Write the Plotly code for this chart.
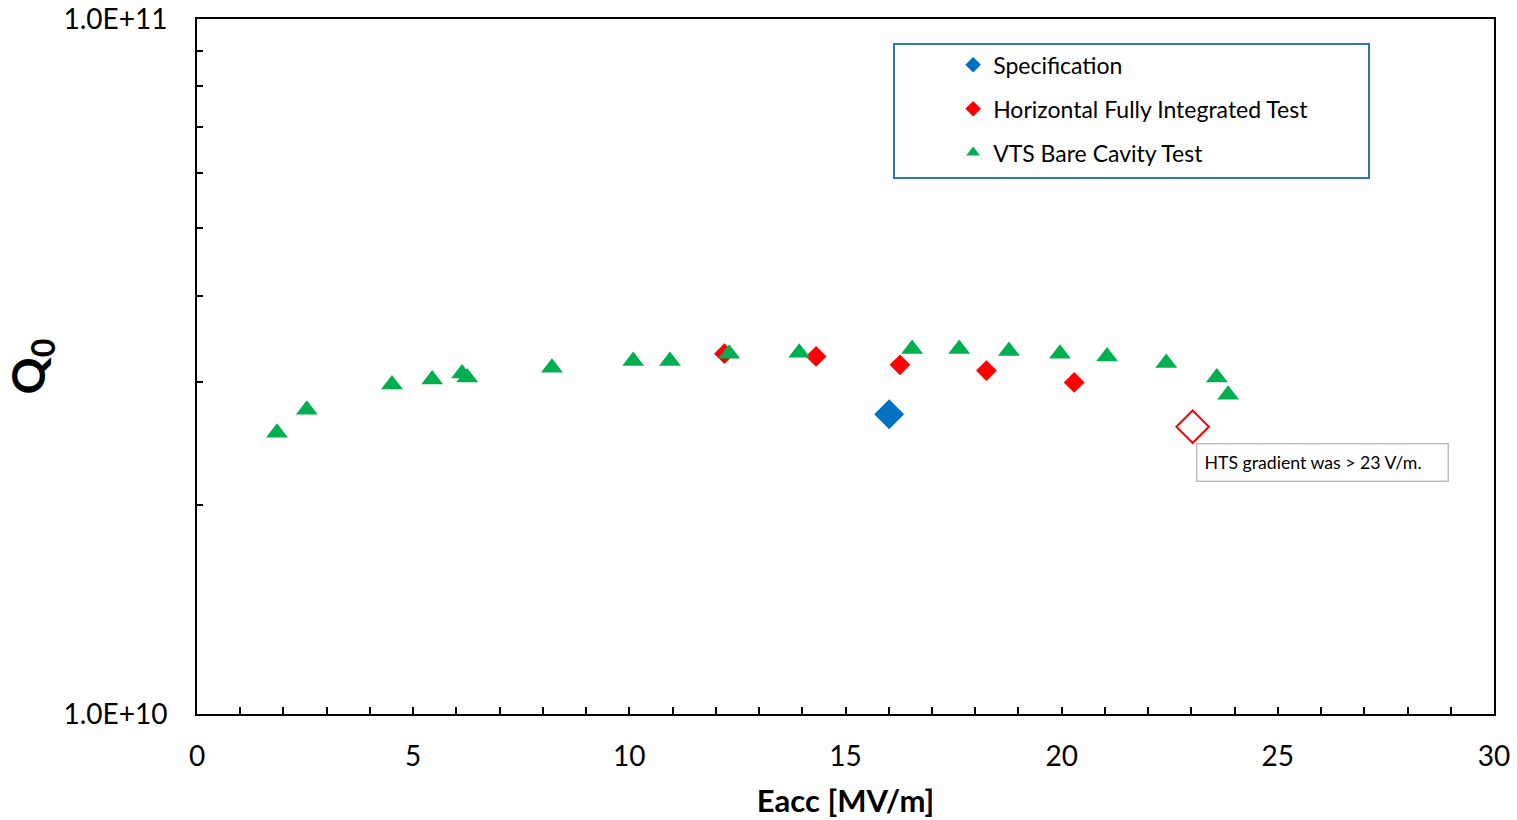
import plotly.graph_objects as go

# ---- data ----
spec_e = [16.01]
spec_q = [2.70e10]

hfit_e = [12.20, 14.32, 16.26, 18.26, 20.29]
hfit_q = [3.30e10, 3.27e10, 3.18e10, 3.12e10, 3.00e10]

hts_open_e = [23.03]
hts_open_q = [2.59e10]

vts_e = [1.85, 2.54, 4.51, 5.44, 6.13, 6.25, 8.21, 10.09, 10.94, 12.31, 13.93,
         16.54, 17.63, 18.78, 19.96, 21.05, 22.42, 23.59, 23.85]
vts_q = [2.54e10, 2.74e10, 2.98e10, 3.03e10, 3.09e10, 3.05e10, 3.15e10, 3.22e10,
         3.22e10, 3.30e10, 3.31e10, 3.35e10, 3.35e10, 3.33e10, 3.30e10, 3.27e10,
         3.20e10, 3.05e10, 2.88e10]

x_tick_vals = [0, 5, 10, 15, 20, 25, 30]
y_tick_vals = [1e10, 1e11]
y_tick_text = ["1.0E+10", "1.0E+11"]
y_minor_vals = [2e10, 3e10, 4e10, 5e10, 6e10, 7e10, 8e10, 9e10]

FONT = "Lato"

fig = go.Figure()
fig.add_trace(go.Scatter(
    x=spec_e, y=spec_q, mode="markers", name="Specification", legendgroup="a",
    marker=dict(symbol="diamond", size=23, color="#0070C0")))
fig.add_trace(go.Scatter(
    x=hfit_e, y=hfit_q, mode="markers", name="Horizontal Fully Integrated Test",
    legendgroup="b", marker=dict(symbol="diamond", size=16, color="#FF0000")))
fig.add_trace(go.Scatter(
    x=hts_open_e, y=hts_open_q, mode="markers", showlegend=False,
    marker=dict(symbol="diamond-open", size=25, color="#FF0000", line=dict(width=2))))
fig.add_trace(go.Scatter(
    x=vts_e, y=vts_q, mode="markers", name="VTS Bare Cavity Test", legendgroup="c",
    marker=dict(symbol="triangle-up", size=19, color="#00B050")))

fig.update_layout(
    width=1517, height=820,
    margin=dict(l=197, r=23, t=19, b=106, autoexpand=False),
    paper_bgcolor="white", plot_bgcolor="white",
    font=dict(family=FONT, color="black"),
    showlegend=True,
    legend=dict(
        x=0.583, y=0.965, xanchor="left", yanchor="top",
        bgcolor="rgba(0,0,0,0)", borderwidth=0,
        font=dict(family=FONT, size=23, color="black"),
        itemsizing="constant", tracegroupgap=11,
        traceorder="grouped"),
    xaxis=dict(
        range=[0, 30], tickvals=x_tick_vals, ticks="inside", ticklen=7,
        tickwidth=1.5, tickcolor="black", showline=True, linecolor="black",
        linewidth=2, mirror=True, showgrid=False, zeroline=False,
        tickfont=dict(family=FONT, size=28), ticklabelstandoff=16,
        minor=dict(dtick=1, ticks="inside", ticklen=7, tickwidth=1.5,
                   tickcolor="black", showgrid=False),
        title=dict(text="<b>Eacc [MV/m]</b>", font=dict(family=FONT, size=31),
                   standoff=20)),
    yaxis=dict(
        type="log", range=[10, 11], tickvals=y_tick_vals, ticktext=y_tick_text,
        ticks="inside", ticklen=6, tickwidth=1.5, tickcolor="black",
        showline=True, linecolor="black", linewidth=2, mirror=True,
        showgrid=False, zeroline=False,
        tickfont=dict(family=FONT, size=28), ticklabelstandoff=22,
        minor=dict(tickvals=y_minor_vals, ticks="inside", ticklen=6, tickwidth=1.5,
                   tickcolor="black", showgrid=False),
        title=dict(text="<b>Q<sub>0</sub></b>", font=dict(family=FONT, size=46),
                   standoff=94)),
    shapes=[dict(type="rect", xref="paper", yref="paper",
                 x0=(894 - 197) / 1297, x1=(1369 - 197) / 1297,
                 y0=(714 - 178) / 695, y1=(714 - 44) / 695,
                 line=dict(color="#2E75B6", width=2), fillcolor="rgba(0,0,0,0)")],
    annotations=[dict(
        text="HTS gradient was > 23 V/m.", xref="paper", yref="paper",
        x=(1196 - 197) / 1297, y=(714 - 443) / 695, xanchor="left", yanchor="top",
        showarrow=False, align="left", width=236, height=22,
        bordercolor="#BFBFBF", borderwidth=1.5, borderpad=7, bgcolor="white",
        font=dict(family=FONT, size=17.7, color="black"))],
)

fig.write_html("out.html")
